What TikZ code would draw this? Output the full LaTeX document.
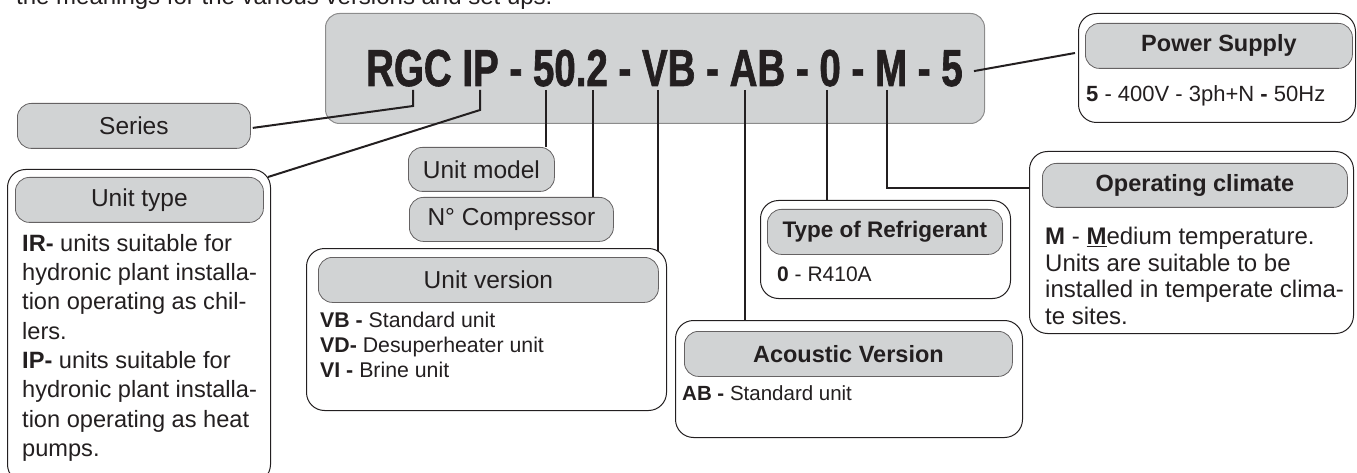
\documentclass[tikz,border=0pt]{standalone}
\usepackage{fontspec}
\setmainfont{Liberation Sans}
\newfontfamily\codefont[FakeStretch=0.74,FakeBold=1.2]{Liberation Sans}
\usetikzlibrary{calc}

\definecolor{boxgray}{HTML}{D1D3D4}
\definecolor{ink}{HTML}{231F20}
\definecolor{rimgray}{HTML}{8C8C8C}

\tikzset{
  legline/.style={ink,line width=2pt},
  outerbox/.style={draw=ink,fill=white,line width=1pt,rounded corners=18pt,inner sep=0pt,anchor=north west},
  tagbox/.style={draw=ink!70,fill=boxgray,line width=0.8pt,rounded corners=14pt,inner sep=0pt,anchor=north west,text=ink,font=\fontsize{24.5}{29}\selectfont},
  tagboxb/.style={tagbox,font=\fontsize{23.5}{28}\selectfont\bfseries},
  bodytxt/.style={anchor=north west,inner sep=0pt,align=left,text=ink},
}

\begin{document}
\begin{tikzpicture}[x=1pt,y=-1pt]
\useasboundingbox (0,0) rectangle (1357,473);
\clip (0,0) rectangle (1357,473);

% cut line of text above
\node [anchor=base west,inner sep=0pt,text=ink,font=\fontsize{24}{29}\selectfont] (intro) at (16,5) {the meanings for the various versions and set ups.};

% code box
\node [draw=rimgray,fill=boxgray,line width=1pt,rounded corners=14pt,anchor=north west,minimum width=659pt,minimum height=110pt] (codebox) at (325,13) {};
\node [anchor=base west,inner sep=0pt,text=ink,font=\codefont\bfseries\fontsize{52}{60}\selectfont] (code) at (366,86) {RGC IP - 50.2 - VB - AB - 0 - M - 5};

% leg tops
\coordinate (rgc) at (413,90);
\coordinate (ip) at (480,90);
\coordinate (mod) at (546,90);
\coordinate (cmp) at (593,90);
\coordinate (ver) at (658,90);
\coordinate (ac) at (745,90);
\coordinate (ref) at (827,90);
\coordinate (clim) at (887,90);

% series, unit type
\node [tagbox,minimum width=233pt,minimum height=45pt] (series) at (17,103) {Series};
\node [outerbox,minimum width=263pt,minimum height=313pt] (utype) at (7,169) {};
\node [tagbox,minimum width=248pt,minimum height=45pt] (utypeh) at (15,177) {Unit type};
\node [bodytxt,font=\fontsize{23.6}{29.3}\selectfont] (utypet) at (22,234) {\textbf{IR-} units suitable for\\
hydronic plant installa-\\
tion operating as chil-\\
lers.\\
\textbf{IP-} units suitable for\\
hydronic plant installa-\\
tion operating as heat\\
pumps.};

% model, compressor
\node [tagbox,minimum width=146pt,minimum height=44pt] (model) at (408,147) {Unit model};
\node [tagbox,minimum width=204pt,minimum height=44pt] (comp) at (409,197) {N° Compressor};

% unit version
\node [outerbox,minimum width=360pt,minimum height=162pt] (version) at (306,248) {};
\node [tagbox,minimum width=340pt,minimum height=45pt] (versionh) at (318,257) {Unit version};
\node [bodytxt,font=\fontsize{21.3}{25}\selectfont] (versiont) at (320,312) {\textbf{VB -} Standard unit\\
\textbf{VD-} Desuperheater unit\\
\textbf{VI -} Brine unit};

% refrigerant
\node [outerbox,minimum width=250pt,minimum height=98pt] (refrig) at (760,200) {};
\node [tagboxb,minimum width=235pt,minimum height=45pt,font=\fontsize{22.5}{27}\selectfont\bfseries] (refrigh) at (767,209) {Type of Refrigerant};
\node [bodytxt,font=\fontsize{21}{25}\selectfont] (refrigt) at (777,267) {\textbf{0} - R410A};

% acoustic
\node [outerbox,minimum width=347pt,minimum height=117pt] (acoustic) at (675,320) {};
\node [tagboxb,minimum width=328pt,minimum height=45pt] (acoustich) at (684,331) {Acoustic Version};
\node [bodytxt,font=\fontsize{20.5}{25}\selectfont] (acoustict) at (682,385) {\textbf{AB -} Standard unit};

% operating climate
\node [outerbox,minimum width=324pt,minimum height=182pt] (climate) at (1029,151) {};
\node [tagboxb,minimum width=305pt,minimum height=44pt] (climateh) at (1042,163) {Operating climate};
\node [bodytxt,font=\fontsize{24}{26.5}\selectfont] (climatet) at (1045,227) {\textbf{M} - \textbf{\underline{M}}edium temperature.\\
Units are suitable to be\\
installed in temperate clima-\\
te sites.};

% power supply
\node [outerbox,minimum width=277pt,minimum height=109pt] (power) at (1078,13) {};
\node [tagboxb,minimum width=267pt,minimum height=45pt] (powerh) at (1085,23) {Power Supply};
\node [bodytxt,font=\fontsize{22}{26}\selectfont] (powert) at (1086,85) {\textbf{5} - 400V - 3ph+N \textbf{-} 50Hz};

% legs
\draw [legline] (rgc)--++(0,16)--($(series.east)+(2,2)$);
\draw [legline] (ip)--++(0,20)--($(utype.north east)+(-3,8)$);
\draw [legline] (mod)--(mod |- model.north);
\draw [legline] (cmp)--(cmp |- comp.north);
\draw [legline] (ver)--($(ver |- version.north)+(0,3)$);
\draw [legline] (ac)--(ac |- acoustic.north);
\draw [legline] (ref)--(ref |- refrig.north);
\draw [legline] (clim)|-($(climate.north west)+(0,37)$);
\draw [legline] ($(code.east)+(11,3)$)--($(power.west)+(-3,-15)$);
\end{tikzpicture}
\end{document}
